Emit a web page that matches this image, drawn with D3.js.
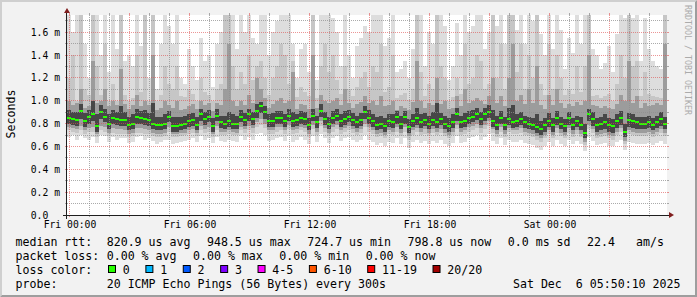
<!DOCTYPE html>
<html>
<head>
<meta charset="utf-8">
<script src="https://cdn.jsdelivr.net/npm/d3@7"></script>
<style>
  body { margin: 0; background: #f2f2f2; }
  svg { display: block; }
  text { font-family: "DejaVu Sans Mono", monospace; }
</style>
</head>
<body>
<svg id="chart" width="697" height="297"></svg>
<script>
// one value every 12 minutes, in units of 0.01 ms
const median = [
  85,84,83,91,82,86,88,78,90,86,80,85,84,83,83,79,80,86,85,84,83,80,79,79,80,
  86,78,78,79,80,82,83,79,88,84,86,78,87,81,80,82,80,80,86,83,88,84,91,95,90,
  82,82,85,85,82,87,82,83,85,84,79,87,81,91,84,80,85,87,82,84,86,83,81,83,90,
  85,82,79,80,78,82,81,86,80,86,77,82,85,81,83,80,83,81,84,80,78,81,88,81,82,
  85,86,88,84,88,90,82,79,85,79,84,81,82,84,81,80,79,77,75,79,82,79,85,80,78,
  85,79,82,79,72,88,84,79,80,81,79,78,82,85,73,83,82,81,80,80,81,79,81,84,80
]
// upper smoke edges: max ping, then inner pings
const pingMax = [
  180,160,178,176,150,120,190,177,140,182,125,176,145,179,135,140,130,177,148,183,120,178,110,150,180,
  165,150,178,120,115,145,130,118,155,135,140,112,150,160,180,190,176,145,178,160,179,155,150,176,177,
  140,160,170,178,180,178,150,120,145,150,125,180,118,176,182,176,172,160,130,178,140,120,148,155,165,
  160,178,176,180,148,155,180,125,128,135,120,145,182,176,130,160,150,176,178,165,118,130,168,140,177,
  160,165,178,180,145,160,178,165,178,150,180,178,162,176,150,180,170,177,158,140,178,145,177,162,128,
  155,142,178,150,180,178,145,140,128,133,148,125,158,177,172,180,172,178,135,172,145,135,130,128,178
]
const ping19 = [
  120,140,100,176,110,105,178,130,105,150,100,115,100,176,105,100,102,140,108,176,100,176,100,105,130,
  115,110,130,104,103,110,106,100,120,108,105,100,110,115,176,178,130,110,125,115,140,118,130,135,120,
  105,120,130,150,140,115,135,103,112,108,104,176,102,130,150,125,140,118,106,130,110,104,112,120,125,
  112,130,125,150,108,112,140,102,105,107,101,110,176,125,104,115,110,176,130,120,100,103,120,106,150,
  115,120,140,135,110,115,176,120,150,110,176,176,125,150,110,140,120,176,115,105,150,110,140,120,105,
  110,106,130,108,130,176,104,105,102,104,106,100,115,140,120,176,130,135,104,125,106,104,103,102,176
]
const ping17 = [
  100,96,98,110,94,95,135,98,100,110,95,100,96,128,97,93,96,105,95,100,96,140,92,94,100,
  96,94,100,92,93,95,97,93,100,96,98,91,98,96,110,150,100,95,100,96,105,98,120,110,102,
  94,97,100,102,98,100,125,93,97,96,93,140,94,105,100,98,100,102,96,110,98,94,97,99,104,
  98,100,96,104,95,96,100,92,95,94,92,99,135,100,94,98,96,120,97,100,93,94,104,95,110,
  98,100,102,100,97,104,120,98,104,95,120,150,100,105,97,110,98,130,96,93,105,96,110,98,94,
  97,95,99,96,100,140,96,95,94,95,94,93,97,105,100,135,98,104,94,98,95,96,98,96,150
]
const ping14 = [
  92,90,90,97,89,92,100,88,96,93,88,92,90,95,90,86,88,93,91,92,89,98,86,86,88,
  91,86,86,86,87,88,89,86,93,90,92,85,93,87,87,90,88,87,92,89,93,90,97,99,95,
  88,89,91,91,88,93,90,88,91,90,85,93,87,97,90,86,91,93,88,91,92,89,87,89,95,
  92,88,86,87,85,88,88,91,87,91,84,88,94,88,89,87,90,98,89,87,85,88,94,87,89,
  91,92,94,90,94,96,92,87,91,86,94,96,88,90,87,86,85,88,82,85,89,85,91,86,84,
  90,85,87,86,80,93,90,85,86,88,85,84,88,91,80,89,88,86,86,86,87,85,87,90,86
]
// lower smoke edges
const ping7 = [
  80,79,78,84,77,80,82,73,84,81,75,80,79,78,78,74,75,80,80,79,78,75,74,74,75,
  81,73,73,74,75,77,78,74,82,79,81,73,82,76,75,77,75,75,81,78,82,79,85,89,84,
  77,77,80,80,77,82,77,78,80,79,74,82,76,86,79,75,80,82,77,79,81,78,76,78,84,
  80,77,74,75,73,77,76,80,75,80,72,77,79,76,78,75,78,76,79,75,73,76,82,76,77,
  80,81,83,79,82,85,77,74,80,74,79,76,77,79,76,75,74,72,70,73,77,73,79,75,73,
  79,74,77,74,67,82,78,73,74,75,73,72,76,79,68,77,76,75,75,75,76,74,76,78,75
]
const ping4 = [
  77,76,75,78,74,76,77,71,78,77,72,76,75,75,74,71,72,76,76,75,74,72,71,71,72,
  77,71,71,72,72,74,75,72,78,75,77,71,78,73,73,74,73,72,77,75,78,76,81,84,80,
  74,74,77,77,74,79,74,75,77,76,71,79,73,82,76,72,77,79,74,76,78,75,73,75,80,
  77,74,71,72,70,74,73,77,72,77,69,74,76,73,75,72,75,73,75,72,70,73,79,73,74,
  77,78,80,76,79,82,75,71,77,71,76,74,74,76,73,72,71,69,67,70,74,70,76,72,70,
  76,71,74,71,64,79,75,70,71,72,70,69,73,76,65,74,73,72,72,72,73,71,73,75,72
]
const ping2 = [
  74,73,72,74,71,73,73,68,74,73,69,72,71,71,71,68,69,72,72,71,71,69,68,68,69,
  73,68,68,69,70,71,72,69,74,72,73,68,74,70,70,71,70,70,74,72,74,72,77,79,76,
  71,71,73,74,71,75,71,72,74,73,68,75,70,78,73,69,73,75,71,73,74,72,70,72,77,
  73,71,68,69,67,71,70,73,69,73,66,70,73,70,71,69,72,70,72,69,67,70,75,70,71,
  73,74,76,72,75,78,72,68,73,68,73,71,71,72,70,69,68,66,64,67,71,67,72,69,67,
  72,68,71,68,61,75,72,67,68,69,67,66,70,73,62,71,70,69,69,69,70,68,70,72,69
]
const pingMin = [
  68,70,66,70,67,66,68,63,70,69,64,68,66,67,67,63,64,68,69,66,67,65,62,64,66,
  66,62,63,64,65,66,67,64,69,66,67,63,68,65,64,66,65,64,69,66,68,66,71,72,70,
  65,66,67,68,65,69,64,66,68,66,62,69,64,71,67,63,67,69,65,67,68,66,64,66,70,
  66,64,61,63,60,64,63,67,62,67,59,64,66,63,65,62,65,63,66,62,60,63,69,63,64,
  67,68,70,66,68,71,65,62,67,61,66,64,64,66,63,62,61,59,57,60,64,60,66,62,60,
  66,62,65,62,56,68,65,61,62,63,60,60,64,66,57,64,63,62,62,62,63,61,63,65,62
]

const yTicks = [0, 0.2, 0.4, 0.6, 0.8, 1.0, 1.2, 1.4, 1.6]
const lossLabels = ["0", "1", "2", "3", "4-5", "6-10", "11-19", "20/20"]
const lossColors = ["#26ff00", "#00b8ff", "#0059ff", "#7e00ff", "#ff00ff", "#ff5500", "#ff0000", "#a10000"]
const rttLine = ["820.9 us avg", "948.5 us max", "724.7 us min", "798.8 us now", "0.0 ms sd", "22.4\u00a0\u00a0\u00a0am/s"]
const lossLine = ["0.00 % avg", "0.00 % max", "0.00 % min", "0.00 % now"]
const probeText = "20 ICMP Echo Pings (56 Bytes) every 300s"
const stampText = "Sat Dec\u00a0\u00a06 05:50:10 2025"

const start = new Date(2025, 11, 4, 23, 52, 30)
const end = new Date(2025, 11, 6, 5, 52, 30)
const stepMs = 12 * 60 * 1000

const svg = d3.select("#chart")
const W = 697, H = 297
const plot = {left: 67, right: 667, top: 15, bottom: 215}

function make_scales() {
  return {
    x: d3.scaleTime().domain([start, end]).range([plot.left, plot.right]),
    y: d3.scaleLinear().domain([0, 1.75]).range([plot.bottom, plot.top])
  }
}

function draw_frame() {
  svg.append("rect").attr("width", W).attr("height", H).attr("fill", "#f2f2f2")
  svg.append("path").attr("fill", "#cfcfcf")
    .attr("d", `M0,${H}L2,${H - 2}L2,2L${W - 2},2L${W},0L0,0Z`)
  svg.append("path").attr("fill", "#9e9e9e")
    .attr("d", `M2,${H - 2}L${W - 2},${H - 2}L${W - 2},2L${W},0L${W},${H}L0,${H}Z`)
  svg.append("rect")
    .attr("x", plot.left).attr("y", plot.top)
    .attr("width", plot.right - plot.left).attr("height", plot.bottom - plot.top)
    .attr("fill", "#ffffff")
  svg.append("clipPath").attr("id", "clip").append("rect")
    .attr("x", plot.left).attr("y", plot.top)
    .attr("width", plot.right - plot.left).attr("height", plot.bottom - plot.top)
}

function draw_smoke(scales) {
  let rows = median.map((m, i) => ({
    t: new Date(start.getTime() + i * stepMs),
    med: m / 100,
    bands: [
      [pingMin[i], pingMax[i]],
      [ping2[i], ping19[i]],
      [ping4[i], ping17[i]],
      [ping7[i], ping14[i]]
    ].map(b => b.map(v => v / 100))
  }))
  let last = rows[rows.length - 1]
  let padded = rows.concat([{...last, t: end}])

  let shades = ["#dddddd", "#c6c6c6", "#9c9c9c", "#474747"]
  let g = svg.append("g").attr("clip-path", "url(#clip)")

  shades.forEach((c, k) => {
    let area = d3.area()
      .x(d => scales.x(d.t))
      .y0(d => scales.y(d.bands[k][0]))
      .y1(d => scales.y(d.bands[k][1]))
      .curve(d3.curveStepAfter)
    g.append("path")
      .datum(padded)
      .attr("d", area)
      .attr("fill", c)
      .attr("shape-rendering", "crispEdges")
  })

  g.selectAll("rect.med")
    .data(rows).enter()
    .append("rect")
    .attr("class", "med")
    .attr("x", d => scales.x(d.t))
    .attr("width", d => scales.x(new Date(d.t.getTime() + stepMs)) - scales.x(d.t))
    .attr("y", d => Math.round(scales.y(d.med)) - 1)
    .attr("height", 2)
    .attr("fill", lossColors[0])
    .attr("shape-rendering", "crispEdges")
}

function draw_grid(scales) {
  let minor = "rgba(143,143,143,0.75)"
  let major = "rgba(222,79,79,0.6)"
  let g = svg.append("g").attr("shape-rendering", "crispEdges")

  // horizontal lines every 0.1 ms, labelled every 0.2 ms
  d3.range(1, 18).forEach(k => {
    let v = k / 10
    let yy = Math.floor(scales.y(v)) + 0.5
    let col = k % 2 === 0 ? major : minor
    g.append("line").attr("x1", plot.left).attr("x2", plot.right)
      .attr("y1", yy).attr("y2", yy)
      .attr("stroke", col).attr("stroke-dasharray", "1,1")
    g.append("line").attr("x1", plot.left - 2).attr("x2", plot.left)
      .attr("y1", yy).attr("y2", yy).attr("stroke", col)
    g.append("line").attr("x1", plot.right).attr("x2", plot.right + 2)
      .attr("y1", yy).attr("y2", yy).attr("stroke", col)
  })

  // vertical lines every hour, major every 3 hours
  d3.timeHour.range(start, end).forEach(t => {
    let xx = Math.floor(scales.x(t)) + 0.5
    let col = t.getHours() % 3 === 0 ? major : minor
    g.append("line").attr("x1", xx).attr("x2", xx)
      .attr("y1", plot.top).attr("y2", plot.bottom)
      .attr("stroke", col).attr("stroke-dasharray", "1,1")
    g.append("line").attr("x1", xx).attr("x2", xx)
      .attr("y1", plot.bottom).attr("y2", plot.bottom + 2).attr("stroke", col)
    g.append("line").attr("x1", xx).attr("x2", xx)
      .attr("y1", plot.top - 2).attr("y2", plot.top).attr("stroke", col)
  })
}

function draw_axes(scales) {
  let g = svg.append("g")
  g.append("line")
    .attr("x1", plot.left - 4).attr("x2", plot.right + 4)
    .attr("y1", plot.bottom + 0.5).attr("y2", plot.bottom + 0.5)
    .attr("stroke", "#1f1f1f").attr("shape-rendering", "crispEdges")
  g.append("line")
    .attr("x1", plot.left - 0.5).attr("x2", plot.left - 0.5)
    .attr("y1", plot.bottom + 4).attr("y2", plot.top - 4)
    .attr("stroke", "#1f1f1f").attr("shape-rendering", "crispEdges")
  g.append("path").attr("fill", "#801f1f")
    .attr("d", `M${plot.right + 2},${plot.bottom - 3}L${plot.right + 2},${plot.bottom + 3}L${plot.right + 7},${plot.bottom}Z`)
  g.append("path").attr("fill", "#801f1f")
    .attr("d", `M${plot.left - 3},${plot.top - 2}L${plot.left + 3},${plot.top - 2}L${plot.left},${plot.top - 7}Z`)

  // tick labels
  g.selectAll("text.ylab")
    .data(yTicks).enter()
    .append("text")
    .attr("class", "ylab")
    .attr("x", plot.left - 7)
    .attr("y", d => scales.y(d) + 3.5)
    .attr("text-anchor", "end")
    .attr("font-size", "9.72px")
    .text(d => d === 0 ? "0.0\u00a0\u00a0" : d.toFixed(1) + " m")

  let fmt = d3.timeFormat("%a %H:%M")
  let labelled = d3.timeHour.range(start, end).filter(t => t.getHours() % 6 === 0)
  g.selectAll("text.xlab")
    .data(labelled).enter()
    .append("text")
    .attr("class", "xlab")
    .attr("x", d => scales.x(d) + 0.5)
    .attr("y", 228)
    .attr("text-anchor", "middle")
    .attr("font-size", "9.72px")
    .text(fmt)

  svg.append("text")
    .attr("transform", "translate(15,114) rotate(-90)")
    .attr("text-anchor", "middle")
    .attr("font-size", "11.6px")
    .text("Seconds")

  svg.append("text")
    .attr("transform", "translate(685,5) rotate(90)")
    .attr("font-size", "8.3px")
    .attr("fill", "#ababab")
    .text("RRDTOOL / TOBI OETIKER")
}

function put_chunks(items, x0, y) {
  let x = x0
  items.forEach(s => {
    let t = svg.append("text").attr("x", x).attr("y", y)
      .attr("font-size", "11.6px").text(s)
    x += t.node().getComputedTextLength() + 16.5
  })
}

function draw_legend() {
  let fs = "11.6px"
  let rows = [["median rtt:", 245.5], ["packet loss:", 259.5], ["loss color:", 273.5], ["probe:", 287.5]]
  rows.forEach(r => {
    svg.append("text").attr("x", 15.5).attr("y", r[1]).attr("font-size", fs).text(r[0])
  })
  put_chunks(rttLine, 106.7, 245.5)
  put_chunks(lossLine, 106.7, 259.5)

  let x = 108.5
  lossLabels.forEach((lab, i) => {
    svg.append("rect")
      .attr("x", x).attr("y", 265.5).attr("width", 7).attr("height", 7)
      .attr("fill", lossColors[i]).attr("stroke", "#000").attr("stroke-width", 1)
    let t = svg.append("text").attr("x", x + 14.3).attr("y", 273.5)
      .attr("font-size", fs).text(lab)
    x += 15 + t.node().getComputedTextLength() + 15.4
  })

  svg.append("text").attr("x", 106.7).attr("y", 287.5).attr("font-size", fs).text(probeText)
  svg.append("text").attr("x", 680.5).attr("y", 287.5).attr("font-size", fs)
    .attr("text-anchor", "end").text(stampText)
}

let scales = make_scales()
draw_frame()
draw_smoke(scales)
draw_grid(scales)
draw_axes(scales)
draw_legend()
</script>
</body>
</html>
